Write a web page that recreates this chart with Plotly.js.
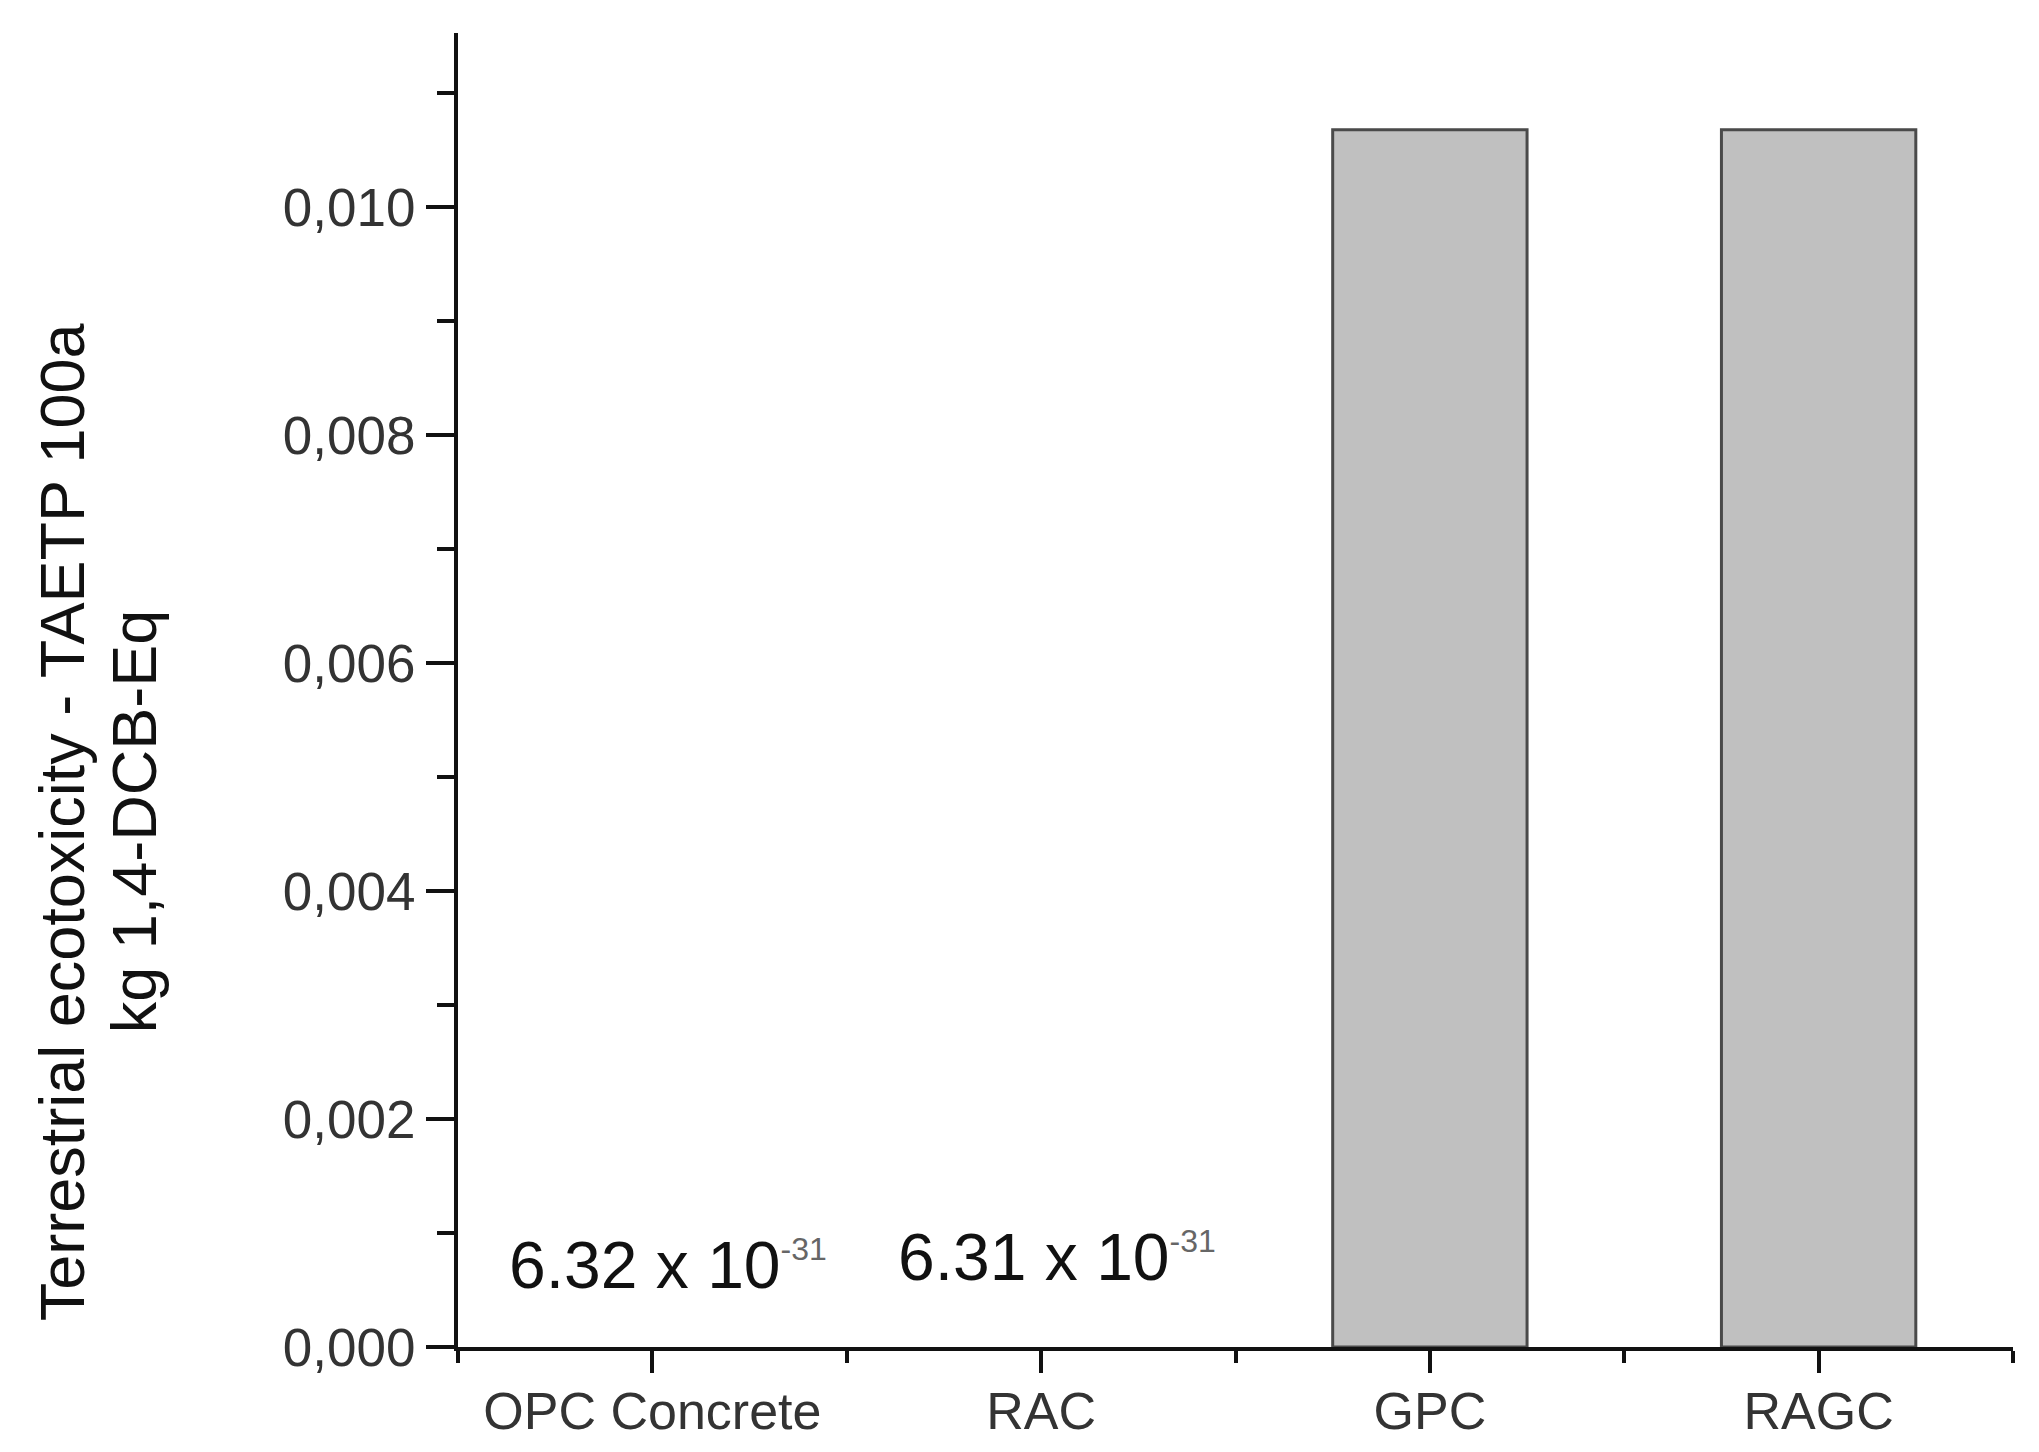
<!DOCTYPE html>
<html>
<head>
<meta charset="utf-8">
<script src="https://cdn.plot.ly/plotly-3.0.1.min.js"></script>
<style>html,body{margin:0;padding:0;background:#fff;}#chart{width:2039px;height:1452px;}</style>
</head>
<body>
<div id="chart"></div>
<script>
const categories = ["OPC Concrete", "RAC", "GPC", "RAGC"];
const values = [6.32e-31, 6.31e-31, 0.01068, 0.01068];
const labelMantissa = ["6.32", "6.31", "", ""];
const labelExponent = ["-31", "-31", "", ""];
const yTickVals = [0, 0.002, 0.004, 0.006, 0.008, 0.010];
const yTitleLines = ["Terrestrial ecotoxicity - TAETP 100a", "kg 1,4-DCB-Eq"];

const font = "Liberation Sans, Arial, sans-serif";
const xIdx = categories.map((c, i) => i);

const trace = {
  type: "bar",
  x: xIdx,
  y: values,
  width: 0.5,
  marker: {color: "#c0c0c0", line: {color: "#4a4a4a", width: values.map(v => v > 1e-6 ? 3 : 0)}},
  hoverinfo: "skip"
};

const annotations = [];
labelMantissa.forEach((m, i) => {
  if (!m) return;
  annotations.push({
    x: i, y: 0.00072 + (i === 1 ? 0.00007 : 0), xref: "x", yref: "y", xshift: 16,
    text: m + " x 10<sup><span style=\"font-size:32px;fill:#666\">" + labelExponent[i] + "</span></sup>",
    showarrow: false, xanchor: "center", yanchor: "middle",
    font: {family: font, size: 66, color: "#111"}
  });
});
const titleX = [-0.2547, -0.2084];
yTitleLines.forEach((t, i) => {
  annotations.push({
    xref: "paper", yref: "paper", x: titleX[i], y: 0.40,
    text: t, textangle: -90, showarrow: false,
    xanchor: "center", yanchor: "middle",
    font: {family: font, size: 63, color: "#111"}
  });
});

const layout = {
  width: 2039, height: 1452,
  margin: {l: 458, r: 26, t: 33, b: 105},
  paper_bgcolor: "#fff", plot_bgcolor: "#fff",
  separators: ",.",
  showlegend: false,
  bargap: 0,
  xaxis: {
    type: "linear",
    range: [-0.5, 3.5],
    tickvals: xIdx, ticktext: categories,
    ticks: "outside", ticklen: 22, tickwidth: 4, tickcolor: "#111",
    ticklabelstandoff: -6,
    showline: true, linecolor: "#111", linewidth: 4,
    showgrid: false, zeroline: false,
    tickfont: {family: font, size: 52, color: "#333"},
    minor: {tick0: -0.5, dtick: 1, ticks: "outside", ticklen: 12, tickwidth: 4, tickcolor: "#111", showgrid: false},
    fixedrange: true
  },
  yaxis: {
    range: [0, 0.01153],
    tickvals: yTickVals, tickformat: ".3f",
    ticks: "outside", ticklen: 28, tickwidth: 4, tickcolor: "#111",
    showline: true, linecolor: "#111", linewidth: 4,
    showgrid: false, zeroline: false,
    tickfont: {family: font, size: 53, color: "#333"},
    minor: {tick0: 0, dtick: 0.001, ticks: "outside", ticklen: 17, tickwidth: 4, tickcolor: "#111", showgrid: false},
    fixedrange: true
  },
  annotations: annotations
};

Plotly.newPlot("chart", [trace], layout, {displayModeBar: false, staticPlot: true});
</script>
</body>
</html>
